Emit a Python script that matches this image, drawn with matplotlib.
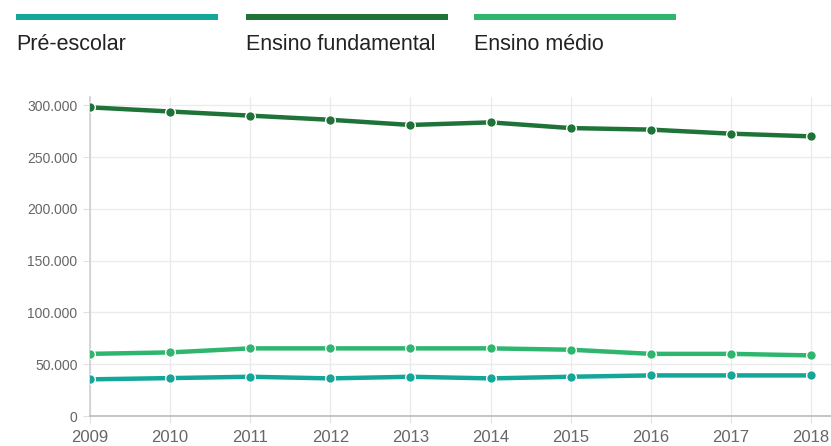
import matplotlib
matplotlib.use("Agg")
import matplotlib.pyplot as plt
from matplotlib.ticker import FuncFormatter

plt.rcParams["font.family"] = ["Liberation Sans", "DejaVu Sans"]

# ── Data ─────────────────────────────────────────────────────────────────────
years = [2009, 2010, 2011, 2012, 2013, 2014, 2015, 2016, 2017, 2018]
pre_escolar = [35400, 36600, 37900, 36300, 37900, 36300, 37900, 39200, 39200, 39200]
fundamental = [298000, 294000, 290000, 286000, 281000, 283500, 278000, 276500, 272600, 270000]
medio = [60000, 61400, 65300, 65300, 65300, 65300, 64000, 60000, 60000, 58500]

series = [("Pré-escolar", pre_escolar, "#14a698"),
          ("Ensino fundamental", fundamental, "#1f7338"),
          ("Ensino médio", medio, "#2eb66e")]

# ── Canvas ───────────────────────────────────────────────────────────────────
W, H = 831, 446
fig = plt.figure(figsize=(W / 100, H / 100), dpi=100)
fig.patch.set_facecolor("white")

ax = fig.add_axes([90 / W, 1 - 416 / H, (831 - 90) / W, (416 - 97) / H])
ax.set_facecolor("white")

for name, vals, col in series:
    ax.plot(years, vals, color=col, lw=3.2, solid_capstyle="round",
            marker="o", ms=7, mfc=col, mec="white", mew=1.0, zorder=3)

ax.set_xlim(2009, 2018.25)
ax.set_ylim(0, 308000)
ax.set_xticks(years)
ax.set_yticks([0, 50000, 100000, 150000, 200000, 250000, 300000])
ax.yaxis.set_major_formatter(FuncFormatter(lambda v, p: f"{int(v):,}".replace(",", ".")))

ax.grid(True, color="#ebebeb", lw=1.0, zorder=0)
for s in ["top", "right"]:
    ax.spines[s].set_visible(False)
ax.spines["left"].set_color("#d0d0d0")
ax.spines["left"].set_linewidth(1.2)
ax.spines["bottom"].set_color("#bbbbbb")
ax.spines["bottom"].set_linewidth(1.2)
ax.tick_params(axis="y", colors="#e0e0e0", length=5, labelcolor="#666666",
               labelsize=10, pad=4)
ax.tick_params(axis="x", colors="#e0e0e0", length=5, labelcolor="#666666",
               labelsize=12, pad=5)

# ── Legend ───────────────────────────────────────────────────────────────────
leg_x = [16, 246, 474]
for (name, vals, col), lx in zip(series, leg_x):
    fig.patches.append(plt.Rectangle((lx / W, 1 - 20 / H), 202 / W, 6 / H,
                                     transform=fig.transFigure, fc=col, ec="none"))
    fig.text(lx / W, 1 - 44 / H, name, ha="left", va="center",
             fontsize=15.5, color="#222222")

fig.savefig("out.png", dpi=100, facecolor="white")
